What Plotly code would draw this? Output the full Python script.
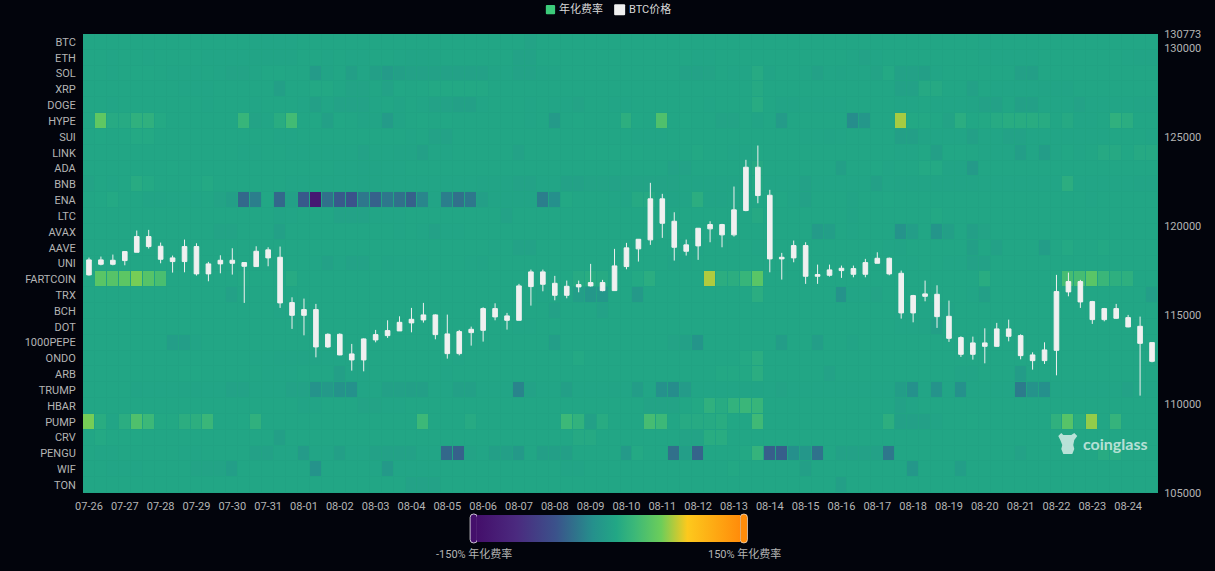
import plotly.graph_objects as go

# rows of the heatmap, top to bottom
tokens = ["BTC", "ETH", "SOL", "XRP", "DOGE", "HYPE", "SUI", "LINK", "ADA", "BNB", "ENA", "LTC", "AVAX", "AAVE", "UNI",
          "FARTCOIN", "TRX", "BCH", "DOT", "1000PEPE", "ONDO", "ARB", "TRUMP", "HBAR", "PUMP", "CRV", "PENGU", "WIF", "TON"]

days = ["07-26", "07-27", "07-28", "07-29", "07-30", "07-31", "08-01", "08-02", "08-03", "08-04",
        "08-05", "08-06", "08-07", "08-08", "08-09", "08-10", "08-11", "08-12", "08-13", "08-14",
        "08-15", "08-16", "08-17", "08-18", "08-19", "08-20", "08-21", "08-22", "08-23", "08-24"]

price_ticks = [105000, 110000, 115000, 120000, 125000, 130000, 130773]

# annualized funding rate in %, one value per 8h slot (3 per day)
btc_rate = [8,8,8,8,8,8,8,8,8,8,8,8,8,8,7,7,7,7,8,8,8,8,8,8,8,8,8,8,8,8,
            8,8,8,8,8,8,8,4,8,8,8,8,8,8,8,8,8,8,8,8,8,8,8,8,8,8,8,8,8,8,
            8,8,8,8,8,8,8,8,8,8,8,8,8,8,8,7,8,8,8,8,8,8,8,8,8,8,8,8,8,8]
eth_rate = [8,8,7,8,8,7,8,8,8,8,7,7,7,7,5,5,6,5,8,8,7,8,7,7,8,8,7,5,5,5,
            8,8,8,8,8,8,3,3,8,8,8,8,8,8,8,8,8,8,8,8,8,7,7,8,8,8,8,8,8,8,
            8,8,8,8,7,3,7,8,8,8,8,8,8,8,8,7,7,7,7,7,8,8,8,8,8,8,8,7,6,6]
sol_rate = [8,8,7,8,9,9,8,7,7,7,8,7,4,4,7,9,9,8,8,-5,6,8,0,7,0,-5,0,2,2,2,
            2,2,2,2,5,7,3,3,6,5,8,8,8,8,8,8,8,8,8,8,3,3,4,8,7,7,13,6,8,8,
            7,2,7,6,7,7,4,11,2,2,0,7,8,8,8,8,8,8,1,0,8,8,8,8,8,8,8,8,8,8]
xrp_rate = [8,8,8,8,8,8,8,8,7,7,7,8,8,8,8,8,0,8,8,10,10,8,4,4,8,3,9,8,9,10,
            10,10,10,10,8,8,8,8,8,8,8,8,8,8,8,8,8,8,8,8,8,8,8,8,8,8,12,8,8,8,
            8,8,8,8,8,8,8,8,2,2,12,12,8,8,2,8,7,7,7,7,5,5,6,8,8,8,8,8,8,8]
doge_rate = [8,8,7,8,8,8,8,8,8,8,7,8,8,8,7,8,8,8,7,1,7,3,3,3,7,8,6,8,7,3,
             3,1,1,7,8,8,8,7,8,7,7,4,8,8,7,7,8,8,8,8,8,8,7,8,8,8,14,8,6,6,
             7,7,7,7,8,8,8,8,7,7,8,7,7,7,6,2,2,8,1,1,7,7,7,3,7,7,7,7,5,5]
hype_rate = [8,52,13,13,20,20,11,8,8,8,8,8,8,26,4,7,15,34,8,9,1,9,8,6,6,-5,5,8,9,8,
             9,8,8,8,8,8,8,7,8,-6,8,9,8,8,8,18,9,8,42,8,9,8,8,4,4,8,6,8,-5,8,
             8,8,8,8,-20,-10,8,8,72,10,10,9,4,16,9,10,13,15,15,15,14,8,12,7,7,8,20,16,8,8]
sui_rate = [8,9,8,9,11,11,8,8,8,8,8,8,8,8,8,8,7,7,8,8,8,8,8,8,8,8,8,7,8,3,
            3,8,8,8,8,8,8,8,8,8,8,8,8,8,8,8,7,7,7,8,8,8,8,8,8,8,8,8,8,8,
            7,7,6,7,8,8,8,8,0,0,5,7,7,7,1,7,7,3,3,7,7,7,7,7,7,7,8,8,8,7]
link_rate = [8,8,8,8,8,8,8,8,8,8,8,8,8,7,7,8,8,7,7,7,7,7,7,3,7,7,5,5,1,7,
             7,8,8,8,8,8,3,8,8,8,8,8,9,9,9,9,9,8,8,8,8,10,8,8,7,7,9,8,8,8,
             8,8,8,8,8,8,8,8,7,7,9,0,9,9,8,7,7,7,-2,7,-3,7,9,7,8,12,12,9,12,12]
ada_rate = [8,8,8,8,8,8,8,9,8,8,8,8,8,8,8,8,8,8,8,8,8,7,7,5,5,7,7,8,8,8,
            8,8,8,8,8,8,8,8,8,8,8,8,8,8,8,8,8,8,8,3,3,8,8,8,8,8,12,8,8,8,
            8,8,8,0,8,8,9,7,8,8,11,11,5,5,-6,8,8,8,8,8,8,8,8,8,8,8,8,8,8,8]
bnb_rate = [4,8,7,8,14,11,8,8,8,9,11,8,8,8,8,8,8,7,7,7,7,7,7,6,6,7,7,7,7,7,
            7,7,7,5,5,6,3,3,7,7,2,2,4,4,3,4,4,4,4,4,5,5,6,6,6,6,11,7,7,7,
            2,7,7,7,7,7,1,7,6,6,6,5,5,5,6,7,7,7,7,7,7,7,17,7,7,7,7,7,6,6]
ena_rate = [8,9,11,8,8,6,6,7,7,7,8,4,0,-45,-30,9,-45,1,-55,-135,-40,-55,-60,-35,-50,-35,-40,-50,-25,6,
            -30,-40,-35,0,5,6,6,5,-30,-18,10,8,8,8,7,5,12,12,7,5,6,17,5,6,7,7,8,8,9,7,
            2,8,8,8,6,8,8,9,8,8,8,8,8,8,8,8,8,8,8,8,8,8,8,8,7,8,8,8,8,8]
ltc_rate = [8,8,8,8,8,8,8,8,8,8,8,8,8,8,8,8,5,7,8,8,8,3,3,3,7,7,7,8,8,8,
            8,8,8,8,8,3,8,8,8,8,8,8,8,8,8,8,8,8,8,8,8,8,8,8,8,8,12,8,8,8,
            8,8,8,8,5,8,8,8,8,8,8,10,8,8,8,8,8,8,8,8,8,8,8,8,8,8,8,8,8,8]
avax_rate = [8,8,8,8,8,8,8,8,8,8,8,4,4,8,8,8,1,8,8,8,8,8,8,8,8,8,7,8,7,2,
             7,7,8,8,8,8,8,8,8,8,8,8,8,8,8,8,8,8,8,8,8,8,8,8,8,8,8,8,8,8,
             8,-5,-1,8,7,8,8,8,-15,-2,8,-12,0,8,0,4,8,8,8,8,8,8,8,8,8,8,8,8,8,8]
aave_rate = [8,8,8,8,8,8,8,8,8,8,8,8,8,8,8,8,8,8,8,8,8,8,8,8,8,8,8,8,8,8,
             8,8,8,8,7,8,3,3,8,8,8,8,8,8,8,8,8,8,8,8,7,7,8,8,8,8,7,7,8,8,
             8,8,8,8,8,8,8,7,6,8,8,8,8,8,0,8,2,8,8,8,-3,8,11,8,8,10,8,8,8,8]
uni_rate = [8,8,8,8,8,8,8,8,8,8,8,8,8,8,8,8,8,8,8,7,2,7,3,3,8,5,7,7,7,8,
            8,8,7,6,8,8,8,8,8,8,8,8,8,8,8,8,8,8,8,6,6,8,8,8,8,8,8,8,8,8,
            8,8,8,8,8,8,8,8,7,7,8,8,7,7,2,2,8,8,8,8,8,8,8,8,8,8,8,8,8,8]
fartcoin_rate = [8,48,46,50,62,46,38,8,8,8,8,8,8,10,9,9,8,13,8,8,8,8,8,8,8,8,8,8,8,8,
                 8,8,8,8,8,8,8,8,8,8,9,13,15,13,8,8,11,16,8,8,8,8,74,17,17,26,48,8,8,8,
                 8,8,8,8,8,8,8,8,8,8,8,8,8,8,8,15,8,8,8,8,8,10,36,36,48,28,19,19,8,8]
trx_rate = [8,8,8,8,8,8,8,8,8,8,8,8,2,8,8,8,8,8,8,8,8,8,8,8,8,8,8,8,8,8,
            8,8,8,8,8,8,8,8,7,7,7,-2,-10,-10,8,8,-8,8,8,8,8,8,8,8,8,8,16,8,8,8,
            8,8,8,-15,7,7,4,8,8,8,8,8,8,8,7,0,8,8,8,8,8,8,8,8,8,8,8,8,8,-2]
bch_rate = [8,8,8,8,8,8,8,8,8,8,8,8,8,8,8,8,7,7,8,8,8,8,8,8,8,8,8,8,8,8,
            8,8,8,8,8,8,8,8,8,2,8,8,8,3,8,8,8,8,8,8,8,8,8,8,8,8,8,8,8,8,
            8,8,8,8,8,8,8,8,7,7,7,4,5,8,8,8,8,8,8,8,8,8,8,8,8,8,8,8,8,8]
dot_rate = [8,8,8,8,8,8,8,8,8,8,8,8,8,8,8,8,8,8,8,8,8,8,8,8,8,8,8,8,8,8,
            8,8,8,8,8,8,7,7,8,8,8,8,8,8,8,8,8,8,8,8,8,8,8,8,8,8,8,8,8,8,
            8,8,8,8,8,8,8,8,7,7,5,0,8,8,8,8,8,8,8,8,8,8,8,8,8,8,8,8,8,8]
pepe_rate = [8,8,8,8,8,8,8,-2,-2,5,8,8,8,8,8,8,8,8,8,8,8,8,8,8,8,8,8,8,8,8,
             8,8,8,8,8,8,8,8,8,-2,8,8,8,8,8,8,8,8,8,4,1,-12,8,8,8,8,8,8,-3,8,
             8,-2,8,8,5,8,8,8,8,8,8,8,8,8,8,8,8,8,8,8,8,8,8,8,8,8,8,8,8,8]
ondo_rate = [8,8,8,8,8,8,8,8,8,8,8,8,8,8,7,7,6,6,6,6,7,7,7,8,8,8,8,8,8,8,
             8,7,8,8,8,8,8,8,8,8,8,11,8,8,8,8,8,8,8,8,8,8,8,8,8,11,16,8,8,8,
             8,8,8,8,8,8,8,8,8,8,8,8,8,8,8,8,8,8,8,8,8,8,8,8,8,8,8,8,8,8]
arb_rate = [8,8,8,8,8,8,8,8,9,9,8,8,8,8,8,7,7,7,8,8,8,0,7,7,8,8,8,8,8,8,
            7,8,8,8,8,8,8,8,8,8,8,8,8,8,8,8,8,8,8,8,8,8,8,10,10,10,16,8,8,8,
            8,8,3,8,8,8,8,8,8,8,8,8,8,5,5,8,8,8,-4,8,8,8,8,8,8,8,8,8,8,8]
trump_rate = [8,8,8,8,5,7,7,7,6,6,7,7,3,3,7,7,7,3,3,-14,-8,-16,-17,7,7,1,1,0,0,7,
              7,1,1,7,7,7,-26,3,7,7,0,7,7,7,6,7,-3,7,-17,-20,-5,7,7,7,7,6,6,7,4,7,
              7,7,7,7,7,7,7,7,-3,-17,7,-15,7,-17,7,7,7,7,-32,-15,-18,7,7,7,7,7,7,3,7,7]
hbar_rate = [8,8,8,8,8,8,8,8,8,8,8,8,8,8,8,8,8,8,6,6,8,8,8,4,4,7,7,8,8,8,
             8,8,8,8,8,8,8,8,8,8,8,8,8,8,8,8,8,4,4,4,8,10,20,14,22,28,26,8,8,8,
             8,8,8,8,8,8,8,8,2,5,8,8,8,8,8,8,8,8,8,8,8,8,8,8,8,8,8,8,8,8]
pump_rate = [62,15,7,16,42,30,10,10,17,18,28,8,8,9,20,8,8,8,8,8,8,8,8,8,8,8,8,8,30,8,
             8,8,13,8,8,8,8,8,8,8,30,22,1,14,8,8,8,36,30,8,13,13,13,15,9,8,32,8,8,8,
             8,8,8,8,8,8,8,18,1,1,1,6,8,8,9,8,8,8,8,8,8,20,46,15,68,8,24,8,8,8]
crv_rate = [8,11,9,9,9,8,8,8,8,8,8,8,8,8,8,8,0,8,8,8,8,8,8,8,8,8,8,8,8,8,
            8,8,8,8,8,8,8,8,8,8,8,12,12,8,8,8,8,8,8,8,4,4,15,15,8,8,8,8,8,8,
            8,8,8,8,8,8,8,8,8,8,8,8,8,8,8,8,8,8,8,8,8,8,8,8,8,8,8,8,8,8]
pengu_rate = [8,7,7,8,8,8,8,8,7,7,8,8,8,8,2,2,7,7,-5,7,7,0,7,7,2,2,2,2,7,7,
              -45,-50,4,7,0,0,-8,8,0,0,0,8,8,8,8,-6,11,8,8,-40,-2,-48,8,8,8,10,24,-52,-52,-18,
              -10,-38,8,2,2,2,2,-35,8,8,8,8,8,8,8,8,8,8,3,8,8,8,8,8,8,14,14,8,8,8]
wif_rate = [8,8,7,7,7,8,8,8,8,4,4,4,-2,8,8,8,8,8,8,-15,8,8,8,8,7,-8,7,7,7,7,
            8,8,8,8,8,8,8,8,8,8,6,6,8,8,8,8,8,8,8,8,8,8,8,8,10,8,8,8,8,8,
            0,8,8,8,8,8,8,8,8,-10,8,8,8,-2,8,8,8,8,8,8,8,8,8,8,8,8,8,8,8,8]
ton_rate = [8,8,8,8,8,8,8,8,8,8,8,8,8,8,8,8,8,8,8,8,8,8,8,8,8,8,8,3,3,3,
            8,8,8,8,8,8,8,8,8,8,8,8,8,8,8,8,8,8,8,8,8,8,8,8,8,8,8,8,8,8,
            8,8,8,0,8,8,8,8,8,8,8,8,8,8,8,8,8,8,8,8,8,8,8,8,8,8,8,8,8,8]

rate_rows = [btc_rate, eth_rate, sol_rate, xrp_rate, doge_rate, hype_rate, sui_rate, link_rate, ada_rate, bnb_rate,
             ena_rate, ltc_rate, avax_rate, aave_rate, uni_rate, fartcoin_rate, trx_rate, bch_rate, dot_rate, pepe_rate,
             ondo_rate, arb_rate, trump_rate, hbar_rate, pump_rate, crv_rate, pengu_rate, wif_rate, ton_rate]

# BTC 8h candles
btc_open = [117247,118090,117843,118050,118517,119399,118854,117995,117995,118837,117303,117865,118068,117938,117714,118652,118236,115691,114977,115298,
            113202,113910,112809,112472,113596,113837,114101,114551,114719,115000,113933,112826,114006,114135,115354,114944,114697,116590,117416,116775,
            116101,116573,116629,116815,116365,117714,118708,119214,121517,120258,118573,118876,119832,120073,119494,120860,123292,121719,118146,118202,
            118893,117169,117225,117489,117281,117281,117899,118180,117337,115112,116045,116157,114921,113725,112787,113427,113236,114214,113837,112753,
            112433,113011,116292,116871,115747,114736,115354,114848,114360,113444]
btc_high = [118219,118275,118388,118573,119736,119775,119062,118332,119230,119023,117978,118348,118742,117938,118854,118798,118837,115989,115916,115618,
            113966,113966,113371,113685,114157,114697,114921,115393,115674,115034,115017,114157,114343,115427,115652,115112,116742,117545,117545,117191,
            116927,116927,117865,116966,118708,119045,119247,122416,121798,120764,119230,119865,120258,120113,122208,123708,124511,122023,118483,119174,
            119079,117825,117825,117770,117770,118146,118517,118219,117489,116124,116927,116663,115804,113798,113781,114247,114551,114736,113910,112899,
            113461,117247,117376,116966,115787,115393,115618,115000,114904,113444]
btc_low = [117208,117786,117786,117786,118517,118725,117899,117376,117393,117208,116888,117337,117264,115674,117714,117731,115393,114214,113854,112618,
           113146,112736,111871,111832,113461,113708,114101,114022,114567,113629,112545,112730,113275,113500,114697,114174,114697,115522,116326,115820,
           115933,116270,116590,116326,116365,117562,117995,118933,119326,118050,118332,118090,119079,118798,119399,120820,121270,117393,116983,117955,
           116742,116742,117152,117079,117112,117112,117899,117225,114792,114584,115764,114270,113483,112640,112489,112281,113202,113517,112506,111927,
           112247,111607,116045,115393,114494,114641,114775,114303,110466,112337]
btc_close = [118090,117843,118068,118556,119399,118837,118124,118202,118837,117303,117865,118068,117899,117731,118573,118202,115674,114977,115298,113202,
             113910,112753,112472,113652,113893,114118,114584,114753,115000,113893,112826,114062,114191,115354,114888,114697,116629,117416,116719,116101,
             116607,116702,116815,116365,117753,118764,119247,121517,120146,118798,118933,119865,120073,119494,120899,123292,121702,118146,118236,118893,
             117169,117264,117528,117618,117601,117938,118180,117303,115112,116084,116180,114904,113685,112787,113427,113236,114214,113798,112713,112433,
             113034,116309,116871,115730,114736,115354,114809,114326,113404,112393]

assert all(len(r) == 90 for r in rate_rows)

# colours of the visual map
rate_colors = [[0, "#440f6b"], [0.15, "#4b2a7f"], [0.3, "#3b528b"], [0.44, "#25908c"], [0.53, "#22a785"],
               [0.6, "#3cb878"], [0.7, "#6ccd5a"], [0.8, "#fdc91d"], [1, "#ff8c0a"]]

BG = "#02040c"
TEXT = "#b4b4b4"
FONT = "Roboto, 'Noto Sans CJK SC', sans-serif"
W, H = 1215, 571
PLOT_L, PLOT_R, PLOT_T, PLOT_B = 83, 1157.7, 33.8, 493


def px(x):
    return (x - PLOT_L) / (PLOT_R - PLOT_L)


def py(y):
    return (PLOT_B - y) / (PLOT_B - PLOT_T)


def rounded(x0, y0, x1, y1, r):
    # rounded rect as svg path, in paper coordinates, given page pixels
    pts = [("M", x0 + r, y0), ("L", x1 - r, y0), ("Q", x1, y0, x1, y0 + r), ("L", x1, y1 - r), ("Q", x1, y1, x1 - r, y1),
           ("L", x0 + r, y1), ("Q", x0, y1, x0, y1 - r), ("L", x0, y0 + r), ("Q", x0, y0, x0 + r, y0)]
    out = ""
    for p in pts:
        vals = p[1:]
        coords = [f"{px(vals[i]):.5f},{py(vals[i + 1]):.5f}" for i in range(0, len(vals), 2)]
        out += p[0] + " ".join(coords) + " "
    return out + "Z"


slots = list(range(90))

fig = go.Figure()

fig.add_trace(go.Heatmap(
    x=slots, y=tokens, z=rate_rows,
    zmin=-150, zmax=150, colorscale=rate_colors,
    xgap=1, ygap=1, hoverongaps=False,
    colorbar=dict(
        # horizontal bar with xref container scales x by the plot width
        orientation="h", xref="container", yref="container",
        x=477 / (PLOT_R - PLOT_L), xanchor="left", y=1 - 515 / H, yanchor="top",
        lenmode="pixels", len=263, thicknessmode="pixels", thickness=27,
        outlinewidth=0, borderwidth=0, showticklabels=False, ticks="", xpad=0, ypad=0,
    ),
))

fig.add_trace(go.Candlestick(
    x=slots, open=btc_open, high=btc_high, low=btc_low, close=btc_close,
    yaxis="y2", showlegend=False,
    increasing=dict(line=dict(color="#f0f0f0", width=1), fillcolor="#f0f0f0"),
    decreasing=dict(line=dict(color="#f0f0f0", width=1), fillcolor="#f0f0f0"),
))

fig.update_layout(
    width=W, height=H,
    margin=dict(l=PLOT_L, r=W - PLOT_R, t=PLOT_T, b=H - PLOT_B, pad=0, autoexpand=False),
    paper_bgcolor=BG, plot_bgcolor="#21a383",
    font=dict(family=FONT, size=11, color=TEXT),
    showlegend=False, boxgap=0.45,
    xaxis=dict(range=[-0.5, 89.5], tickvals=slots[::3], ticktext=days, rangeslider=dict(visible=False),
               showgrid=False, zeroline=False, showline=False, ticks="outside", ticklen=3, tickcolor=BG, tickangle=0),
    yaxis=dict(autorange="reversed", type="category", showgrid=False, zeroline=False, showline=False,
               ticks="outside", ticklen=4, tickcolor=BG, dtick=1),
    yaxis2=dict(overlaying="y", side="right", range=[105000, 130773], tickvals=price_ticks,
                showgrid=False, zeroline=False, showline=False, ticks="outside", ticklen=3, tickcolor=BG,
                tickformat="d"),
)

# visual map handles
fig.add_shape(type="path", xref="paper", yref="paper", path=rounded(470, 514, 477.3, 543, 3.5),
              fillcolor="#440f6b", line=dict(color="rgba(255,255,255,0.75)", width=1))
fig.add_shape(type="path", xref="paper", yref="paper", path=rounded(740, 514, 747.3, 543, 3.5),
              fillcolor="#ff8c0a", line=dict(color="rgba(255,255,255,0.6)", width=1))

# legend drawn by hand so swatches sit tight to the text
fig.add_shape(type="path", xref="paper", yref="paper", path=rounded(545.7, 4.7, 555, 14, 1),
              fillcolor="#3ccb7a", line=dict(width=0))
fig.add_shape(type="path", xref="paper", yref="paper", path=rounded(614, 4, 625, 15, 1),
              fillcolor="#f0f0f0", line=dict(width=0))

labels = [("年化费率", 580.5, 9, "#d8d8d8"), ("BTC价格", 649.5, 9, "#d8d8d8"),
          ("-150% 年化费率", 474, 554, TEXT), ("150% 年化费率", 744, 554, TEXT)]
for text, lx, ly, color in labels:
    fig.add_annotation(text=text, x=px(lx), y=py(ly), xref="paper", yref="paper", showarrow=False,
                       font=dict(size=11, color=color, family=FONT), xanchor="center", yanchor="middle")

# watermark
fig.add_annotation(text="coinglass", x=px(1115), y=py(443), xref="paper", yref="paper", showarrow=False,
                   font=dict(size=16, color="rgba(255,255,255,0.68)", family="Lato, sans-serif", weight=700),
                   xanchor="center", yanchor="middle")
bull = [(1058, 436), (1061, 433), (1063, 435), (1071, 435), (1074, 433), (1077, 436), (1074, 440), (1073, 445),
        (1074, 449), (1072, 454), (1063, 454), (1061, 449), (1062, 445), (1060, 440)]
fig.add_shape(type="path", xref="paper", yref="paper", fillcolor="rgba(255,255,255,0.68)", line=dict(width=0),
              path="M" + " L".join(f"{px(a):.5f},{py(b):.5f}" for a, b in bull) + " Z")

fig.write_html("out.html", config=dict(displayModeBar=False),
               post_script="document.body.style.margin='0';document.body.style.background='#02040c';")
